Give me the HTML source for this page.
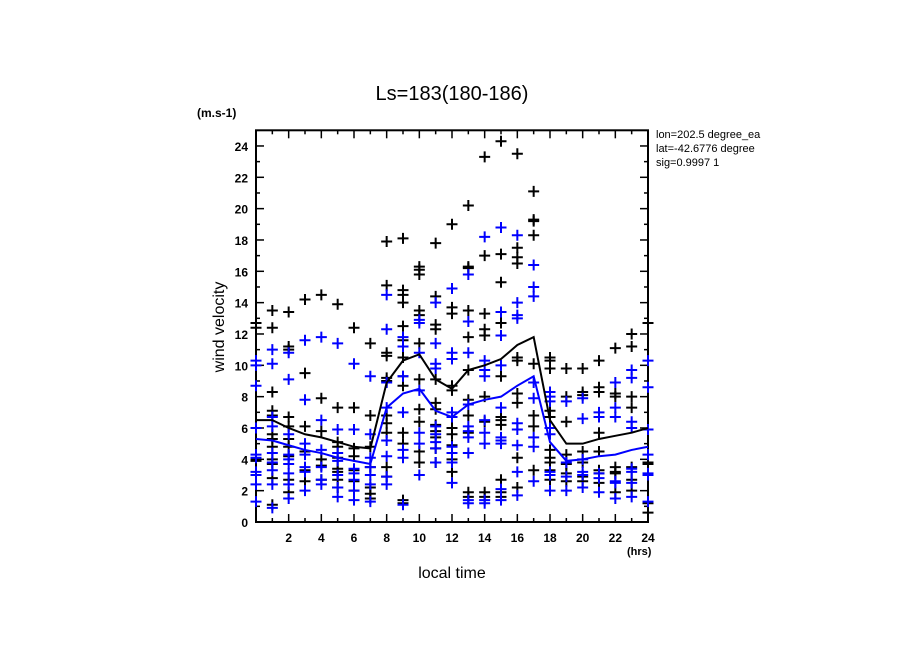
<!DOCTYPE html>
<html><head><meta charset="utf-8"><style>
html,body{margin:0;padding:0;background:#fff;width:904px;height:654px;overflow:hidden}
svg text{font-family:"Liberation Sans",sans-serif}
</style></head><body>
<svg id="chart" width="904" height="654">
<text x="452" y="100" text-anchor="middle" font-size="20">Ls=183(180-186)</text>
<text x="197" y="117" font-size="12" font-weight="bold">(m.s-1)</text>
<text x="452" y="578" text-anchor="middle" font-size="16">local time</text>
<text x="627" y="555" font-size="11" font-weight="bold">(hrs)</text>
<text transform="translate(224,327) rotate(-90)" text-anchor="middle" font-size="16">wind velocity</text>
<g font-size="11">
<text x="656" y="138">lon=202.5 degree_ea</text>
<text x="656" y="152">lat=-42.6776 degree</text>
<text x="656" y="166">sig=0.9997 1</text>
</g>
<rect x="780" y="125" width="124" height="50" fill="#fff"/>
<g id="axes"></g>
<g id="marks"></g>
</svg>
<script>
const hours=[0,1,2,3,4,5,6,7,8,9,10,11,12,13,14,15,16,17,18,19,20,21,22,23,24];
const blackPts=[
[12.7,12.4,4.0,3.9],
[13.5,12.4,8.3,7.1,6.8,5.6,5.3,4.8,4.0,3.7,2.8,1.1],
[13.4,11.2,11.0,6.7,6.1,5.3,4.8,4.2,2.7,1.9],
[14.2,9.5,6.1,4.5,3.3,2.6],
[14.5,7.9,5.8,4.0,3.6,2.7],
[13.9,7.3,5.1,4.8,4.1,3.4,3.2,2.7,2.2],
[12.4,7.3,4.7,4.2,3.3,2.6,2.0],
[11.4,6.8,4.8,3.5,2.2,1.8,1.5],
[17.9,15.1,10.8,10.6,9.2,9.0,6.8,6.3,5.7,3.5,2.9],
[18.1,14.8,14.5,14.0,12.5,11.6,10.5,9.3,8.7,5.7,5.0,1.4,1.2],
[16.3,16.1,15.8,13.5,13.2,11.4,9.1,7.2,6.4,4.5,3.8],
[17.8,14.4,12.6,12.3,9.1,7.6,7.2,6.2,5.8,5.4,4.7,3.8],
[19.0,13.7,13.3,8.7,8.4,6.0,5.6,4.9,4.0,3.2],
[20.2,16.3,16.2,13.5,11.8,9.7,7.8,6.8,5.7,1.9,1.6],
[23.3,17.0,13.3,12.3,11.9,8.0,6.4,1.9,1.6],
[24.3,17.1,15.3,12.7,9.3,6.7,6.5,6.2,2.7,1.9,1.6],
[23.5,17.5,16.9,16.5,10.5,10.3,8.2,7.6,4.1,2.2],
[21.1,19.3,19.2,18.3,10.1,6.8,6.1,3.3],
[10.5,10.3,9.8,7.1,6.7,4.6,4.1,3.8,3.3,2.7],
[9.8,8.0,6.4,4.3,3.7,3.1,2.6],
[9.8,8.3,8.1,4.5,3.8,2.9,2.6],
[10.3,8.6,8.3,5.7,4.5,3.3,3.1,2.5],
[11.1,8.2,8.0,3.5,3.2,3.1,1.9],
[12.0,11.2,8.0,7.3,3.5,2.7,2.0],
[12.7,3.8,3.7,1.2,0.6]
];
const bluePts=[
[10.3,10.0,8.7,6.0,4.3,4.1,3.2,3.0,2.4,1.3],
[11.0,10.1,6.7,6.1,4.4,3.8,3.3,2.4,0.9],
[10.8,9.1,5.6,4.3,4.0,3.7,3.1,2.4,1.5],
[11.6,7.8,5.0,4.3,3.5,3.2,2.0],
[11.8,6.5,4.6,3.5,2.7,2.4],
[11.4,5.9,4.4,3.9,3.0,2.2,1.6],
[10.1,5.9,3.4,3.1,2.7,2.0,1.4],
[9.3,5.6,4.1,3.5,3.0,2.4,1.3],
[14.5,12.3,8.9,7.3,5.2,4.2,2.9,2.4],
[11.8,11.2,9.3,7.0,4.6,4.1,1.1],
[12.9,12.7,10.8,8.4,5.7,5.0,3.0],
[14.0,11.4,10.1,9.8,6.1,5.6,5.1,4.7,3.8],
[14.9,10.8,10.4,7.0,6.7,4.8,4.4,3.8,2.5],
[15.8,12.8,10.8,7.5,6.1,5.8,5.4,4.4,1.4,1.2],
[18.2,10.3,9.7,9.3,6.5,5.7,5.0,1.4,1.2],
[18.8,13.4,11.9,10.0,7.3,5.4,5.2,5.0,2.1,1.4],
[18.3,14.0,13.2,13.0,6.3,5.9,4.9,3.2,1.7],
[16.4,15.0,14.4,8.9,7.9,5.4,4.8,2.6],
[8.3,8.0,7.7,6.0,5.6,3.2,3.0,2.0],
[7.7,3.8,2.9,2.0],
[7.9,6.6,4.0,3.2,3.0,2.2],
[7.0,6.7,3.1,2.8,1.9],
[8.9,7.3,6.7,2.6,2.5,1.5],
[9.7,9.2,6.4,6.0,3.4,3.2,2.5,1.6],
[10.3,8.6,5.9,4.3,3.1,3.0,1.3]
];
const blackMean=[6.5,6.5,6.0,5.6,5.4,5.1,4.8,4.7,8.9,10.3,10.7,9.1,8.5,9.7,10.0,10.4,11.3,11.8,6.5,5.0,5.0,5.3,5.5,5.7,6.0];
const blueMean=[5.3,5.2,4.9,4.6,4.4,4.1,3.9,3.7,7.3,8.2,8.5,7.1,6.7,7.5,7.8,8.0,8.7,9.3,5.1,3.9,4.0,4.2,4.3,4.6,4.8];
const yTicks=[0,2,4,6,8,10,12,14,16,18,20,22,24];
const xTicks=[2,4,6,8,10,12,14,16,18,20,22,24];

const NS="http://www.w3.org/2000/svg";
const X0=256,X1=648,Y0=522,YT=130.3;
const xs=h=>X0+h*(X1-X0)/24;
const ys=v=>Y0-v*(Y0-YT)/25;
function mk(tag,attrs,parent){const e=document.createElementNS(NS,tag);for(const k in attrs)e.setAttribute(k,attrs[k]);parent.appendChild(e);return e;}
const axes=document.getElementById('axes');
const marks=document.getElementById('marks');
const frame=mk('rect',{x:X0,y:YT,width:X1-X0,height:Y0-YT,fill:'none',stroke:'#000','stroke-width':2},axes);


for(let v=0;v<=25;v++){
  const len=v%2===0?8:4;
  mk('line',{x1:X0,x2:X0+len,y1:ys(v),y2:ys(v),stroke:'#000','stroke-width':1.5},axes);
  mk('line',{x1:X1,x2:X1-len,y1:ys(v),y2:ys(v),stroke:'#000','stroke-width':1.5},axes);
}
for(let h=0;h<=24;h++){
  const len=h%2===0?8:4;
  mk('line',{x1:xs(h),x2:xs(h),y1:Y0,y2:Y0-len,stroke:'#000','stroke-width':1.5},axes);
  mk('line',{x1:xs(h),x2:xs(h),y1:YT,y2:YT+len,stroke:'#000','stroke-width':1.5},axes);
}
yTicks.forEach(v=>{
  const t=mk('text',{x:X0-8,y:ys(v)+5,'text-anchor':'end','font-size':12,'font-weight':'bold'},axes);
  t.textContent=v;
  
  
});
xTicks.forEach(h=>{
  const t=mk('text',{x:xs(h),y:Y0+20,'text-anchor':'middle','font-size':12,'font-weight':'bold'},axes);
  t.textContent=h;
  
  
});
function plus(h,v,color,name){
  const g=mk('path',{d:`M${xs(h)-5.5},${ys(v)}h11M${xs(h)},${ys(v)-5.5}v11`,stroke:color,'stroke-width':2,fill:'none'},marks);
  
  
}
hours.forEach((h,i)=>{
  blackPts[i].forEach(v=>plus(h,v,'#000','black-point'));
  bluePts[i].forEach(v=>plus(h,v,'#0000ff','blue-point'));
});
const l1=mk('polyline',{points:hours.map((h,i)=>xs(h)+','+ys(blackMean[i])).join(' '),fill:'none',stroke:'#000','stroke-width':2},marks);


const l2=mk('polyline',{points:hours.map((h,i)=>xs(h)+','+ys(blueMean[i])).join(' '),fill:'none',stroke:'#0000ff','stroke-width':2},marks);


</script>
</body></html>
